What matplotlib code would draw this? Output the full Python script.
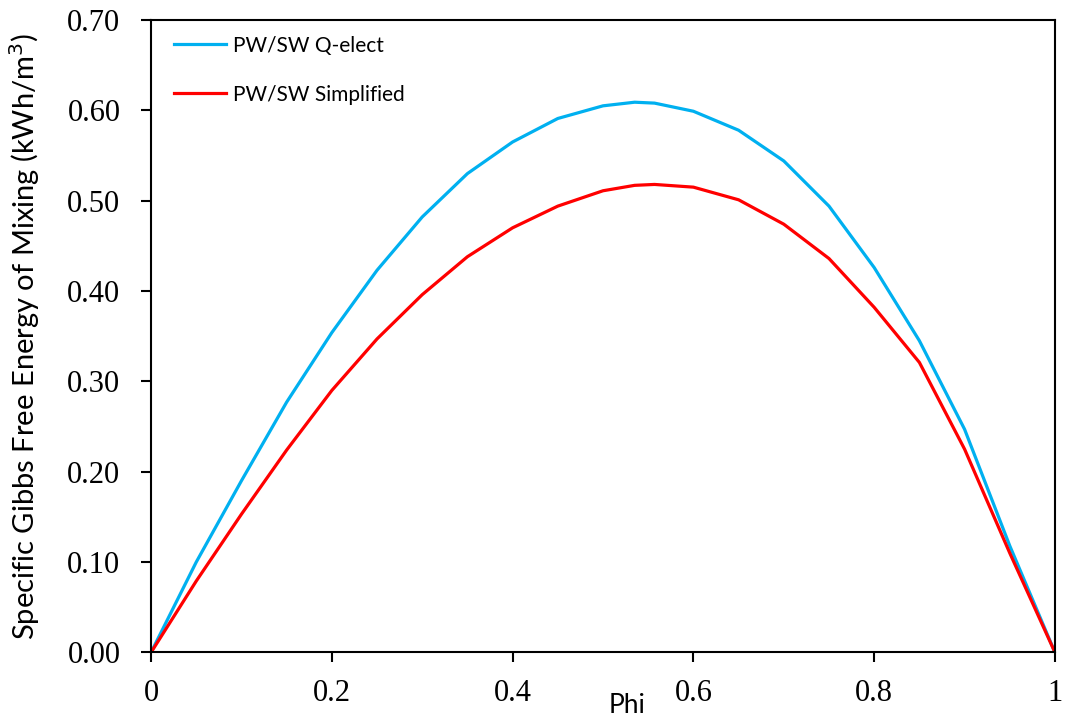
import numpy as np
import matplotlib.pyplot as plt

##Values
phi = [0.0, 0.05, 0.10, 0.15, 0.20, 0.25, 0.30, 0.35, 0.40, 0.45, 0.50,
       0.535, 0.557, 0.60, 0.65, 0.70, 0.75, 0.80, 0.85, 0.90, 0.95, 1.0]
g_qelect = [0.0, 0.100, 0.190, 0.277, 0.354, 0.423, 0.482, 0.530, 0.565, 0.591, 0.605,
            0.609, 0.608, 0.599, 0.578, 0.544, 0.494, 0.426, 0.345, 0.247, 0.118, 0.0]
g_simpl = [0.0, 0.079, 0.153, 0.224, 0.290, 0.347, 0.396, 0.438, 0.470, 0.494, 0.511,
           0.517, 0.518, 0.515, 0.501, 0.474, 0.436, 0.382, 0.321, 0.225, 0.110, 0.0]

xticks = [0, 0.2, 0.4, 0.6, 0.8, 1]
xtick_labels = ["0", "0.2", "0.4", "0.6", "0.8", "1"]
yticks = [0.0, 0.1, 0.2, 0.3, 0.4, 0.5, 0.6, 0.7]

sans = ["Lato", "DejaVu Sans"]
serif = ["Liberation Serif", "DejaVu Serif"]

fig = plt.figure(figsize=(10.65, 7.19), dpi=100)
ax = fig.add_axes([0.1418, 0.0925, 0.8488, 0.8797])

ax.plot(phi, g_qelect, color="#00B0F0", linewidth=2.3, solid_joinstyle="round",
        label="PW/SW Q-elect")
ax.plot(phi, g_simpl, color="#FF0000", linewidth=2.3, solid_joinstyle="round",
        label="PW/SW Simplified")

ax.set_xlim(0, 1)
ax.set_ylim(0, 0.70)
ax.set_xticks(xticks)
ax.set_xticklabels(xtick_labels)
ax.set_yticks(yticks)
ax.set_yticklabels([f"{v:.2f}" for v in yticks])

for lab in ax.get_xticklabels() + ax.get_yticklabels():
    lab.set_fontfamily(serif)
    lab.set_fontsize(22)

ax.tick_params(axis="both", direction="out", length=7, width=1.5, color="black")
ax.tick_params(axis="x", pad=12)
ax.tick_params(axis="y", pad=15)
for s in ax.spines.values():
    s.set_linewidth(1.5)

ax.set_ylabel("Specific Gibbs Free Energy of Mixing (kWh/m$^3$)", family=sans, fontsize=21)
ax.yaxis.set_label_coords(-0.121, 0.5)
fig.text(0.5887, 0.009, "Phi", family=sans, fontsize=19, ha="center", va="baseline")

leg = ax.legend(loc="upper left", prop={"family": sans, "size": 15}, frameon=False,
                handlelength=2.5, handletextpad=0.3, labelspacing=1.4,
                bbox_to_anchor=(0.005, 1.005))

fig.savefig("out.png", dpi=100)
